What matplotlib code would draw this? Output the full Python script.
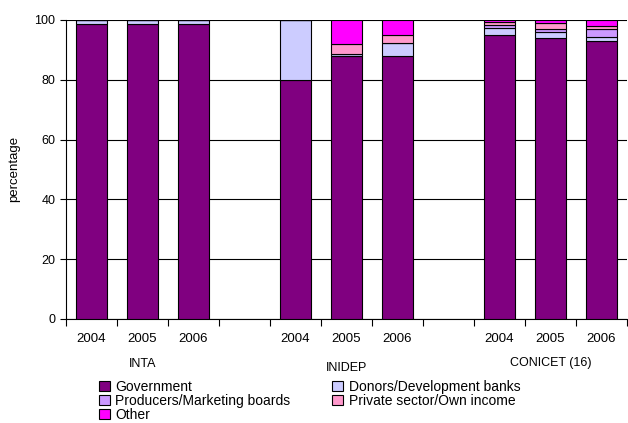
import matplotlib
matplotlib.use("Agg")
import matplotlib.pyplot as plt
import numpy as np

plt.rcParams['font.family'] = ['Liberation Sans', 'DejaVu Sans']

years = ["2004", "2005", "2006"]
groups = ["INTA", "INIDEP", "CONICET (16)"]
series = ["Government", "Donors/Development banks", "Producers/Marketing boards",
          "Private sector/Own income", "Other"]
colors = ["#800080", "#CCCCFF", "#CC99FF", "#FF99CC", "#FF00FF"]

# values per bar (INTA 04-06, INIDEP 04-06, CONICET 04-06)
government = [98.7, 98.7, 98.7, 80.0, 88.0, 88.0, 95.0, 94.0, 93.0]
donors     = [1.3, 1.3, 1.3, 20.0, 0.5, 4.3, 2.4, 2.0, 1.2]
producers  = [0.0, 0.0, 0.0, 0.0, 0.0, 0.0, 1.0, 1.0, 2.6]
private    = [0.0, 0.0, 0.0, 0.0, 3.5, 2.7, 0.9, 2.0, 1.3]
other      = [0.0, 0.0, 0.0, 0.0, 8.0, 5.0, 0.7, 1.0, 1.9]

data = [government, donors, producers, private, other]
positions = [0, 1, 2, 4, 5, 6, 8, 9, 10]

fig = plt.figure(figsize=(6.28, 4.23), dpi=100)
ax = fig.add_axes([0.105, 0.246, 0.893, 0.707])

bottom = np.zeros(len(positions))
handles = []
for name, vals, col in zip(series, data, colors):
    vals = np.array(vals)
    h = ax.bar(positions, vals, width=0.6, bottom=bottom, color=col,
               edgecolor="black", linewidth=0.8, label=name, zorder=3)
    handles.append(h)
    bottom += vals

ax.set_xlim(-0.5, 10.5)
ax.set_ylim(0, 100)
ax.set_yticks([0, 20, 40, 60, 80, 100])
ax.yaxis.grid(True, color="black", linewidth=0.8, zorder=0)
ax.set_axisbelow(True)
for s in ["top", "right"]:
    ax.spines[s].set_visible(False)
ax.spines["left"].set_linewidth(0.8)
ax.spines["bottom"].set_linewidth(0.8)
ax.tick_params(axis="y", labelsize=9, length=4, width=0.8)

ax.set_xticks(np.arange(-0.5, 11.0, 1.0))
ax.set_xticklabels([])
ax.tick_params(axis="x", which="major", length=5, width=0.8, direction="out")
ax.set_xticks(positions, minor=True)
ax.set_xticklabels(years * 3, minor=True)
ax.tick_params(axis="x", which="minor", length=0, labelsize=9.5, pad=10)

ax.set_ylabel("percentage", fontsize=9.5, labelpad=10)

group_x = [1, 5, 9]
group_y = [-14.9, -16.4, -14.7]
for gx, gy, g in zip(group_x, group_y, groups):
    ax.text(gx, gy, g, ha="center", va="center", fontsize=9,
            transform=ax.transData, clip_on=False)

# row-major legend order
order = [0, 2, 4, 1, 3]
leg = fig.legend(handles=[handles[i] for i in order],
                 labels=[series[i] for i in order], loc="upper left",
                 bbox_to_anchor=(0.157, 0.102), ncol=2, frameon=False,
                 fontsize=10, handlelength=0.8, handleheight=0.8,
                 handletextpad=0.4, labelspacing=0.0, columnspacing=3.0,
                 borderaxespad=0, borderpad=0)
for h in leg.legend_handles:
    h.set_edgecolor("black")
    h.set_linewidth(0.8)

fig.savefig("out.png", dpi=100)
